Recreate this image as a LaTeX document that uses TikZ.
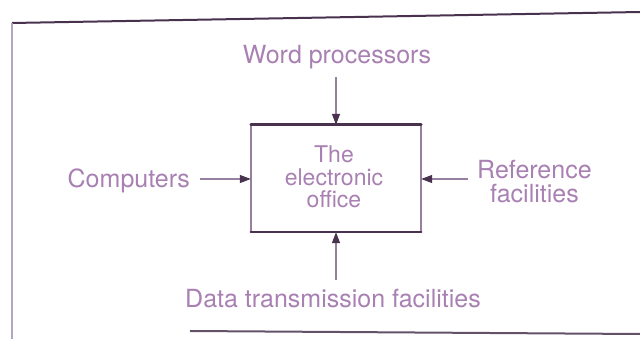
\documentclass[tikz,border=0pt]{standalone}
\usepackage{fontspec}
\setmainfont{TeX Gyre Heros}
\usetikzlibrary{arrows.meta}
\definecolor{inkc}{RGB}{168,128,178}
\definecolor{darkc}{RGB}{72,50,78}
\definecolor{lightc}{RGB}{150,128,160}
\tikzset{
  lbl/.style={text=inkc, inner sep=0pt, font=\fontsize{25}{24}\selectfont, align=center},
  arr/.style={draw=lightc, line width=1.2pt, -{Triangle[length=11pt,width=8pt,color=darkc]}},
  boxside/.style={draw=lightc, line width=1.5pt},
  boxedge/.style={draw=darkc, line width=2.6pt, line cap=round},
  framedark/.style={draw=darkc, line width=2pt},
  framelight/.style={draw=lightc!70, line width=1.5pt}
}
\begin{document}
\begin{tikzpicture}[x=1pt,y=-1pt]
\useasboundingbox (0,0) rectangle (640,339);
% outer frame
\coordinate (ftl) at (12,23);
\coordinate (ftr) at (640,12);
\coordinate (fbl) at (12,339);
\coordinate (fbs) at (190,331);
\coordinate (fbr) at (640,334);
\draw[framedark] (ftl) -- (ftr);
\draw[framelight] (ftl) -- (fbl);
\draw[framedark, draw=darkc!85] (fbs) -- (fbr);
% central box
\node[minimum width=170pt, minimum height=107pt, inner sep=0pt] (office) at (336,178.5) {};
\draw[boxside] (office.north west) -- (office.south west);
\draw[boxside] (office.north east) -- (office.south east);
\draw[boxedge] (office.north west) -- (office.north east);
\draw[boxedge] (office.south west) -- (office.south east);
\node[lbl, font=\fontsize{23}{22.5}\selectfont] (otext) at (334,177) {The\\electronic\\office};
% labels
\node[lbl] (word) at (337,57) {Word processors};
\node[lbl, anchor=east] (comp) at (190,181) {Computers};
\node[lbl, anchor=west] (ref) at (477,182) {Reference\\facilities};
\node[lbl] (data) at (333,299) {Data transmission facilities};
% arrows
\coordinate (wtail) at (336,77);
\coordinate (ctail) at (200,179);
\coordinate (rtail) at (468,179);
\coordinate (dtail) at (336,280);
\draw[arr] (wtail) -- (office.north);
\draw[arr] (ctail) -- (ctail -| office.west);
\draw[arr] (rtail) -- (rtail -| office.east);
\draw[arr] (dtail) -- (office.south);
\end{tikzpicture}
\end{document}
